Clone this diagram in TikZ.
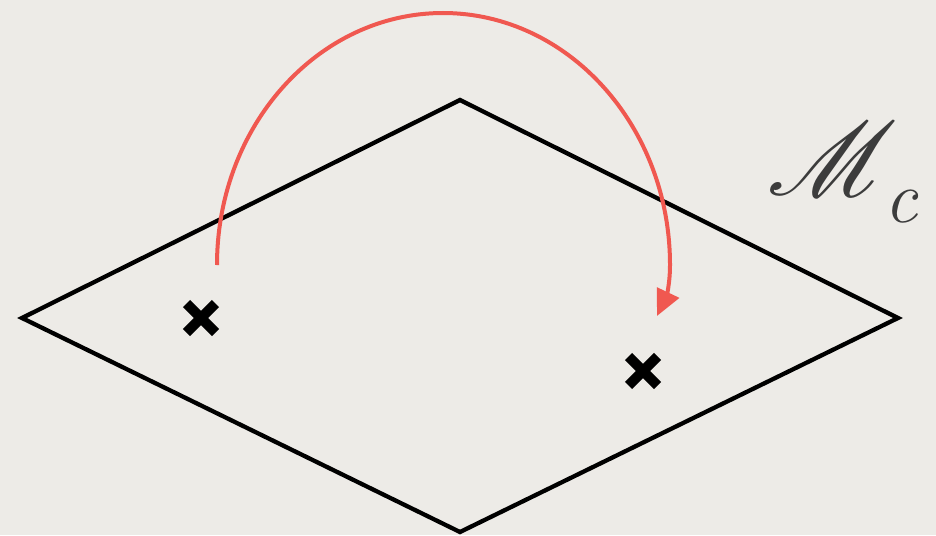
\documentclass[tikz,border=0pt]{standalone}
\usepackage{mathrsfs}
\usetikzlibrary{arrows.meta,calc}
\definecolor{paper}{RGB}{237,235,231}
\definecolor{arcred}{RGB}{240,88,80}
\definecolor{labelgray}{RGB}{60,60,60}
\tikzset{
  edge/.style={line width=4.3pt, line join=miter, black},
  hop/.style={line width=4pt, arcred, -{Triangle[length=26pt,width=24pt]}},
  xmark/.style={line width=10pt, black},
  labeltext/.style={anchor=base west, text=labelgray, inner sep=0pt},
}
\begin{document}
\begin{tikzpicture}[x=1pt,y=-1pt]
  \fill[paper] (0,0) rectangle (936,535);
  \useasboundingbox (0,0) rectangle (936,535);
  \coordinate (top) at (460,100);
  \coordinate (left) at (22,318);
  \coordinate (right) at (898,318);
  \coordinate (bottom) at (460,532);
  \draw[edge] (top) -- (right) -- (bottom) -- (left) -- cycle;
  \coordinate (p1) at (201,318);
  \coordinate (p2) at (643,371);
  \foreach \p in {p1,p2}{
    \draw[xmark] ($(\p)+(-14.5,-14.5)$) -- ($(\p)+(14.5,14.5)$);
    \draw[xmark] ($(\p)+(-14.5,14.5)$) -- ($(\p)+(14.5,-14.5)$);
  }
  \coordinate (start) at (217,265);
  \coordinate (apex) at (443,13);
  \coordinate (side) at (670,265);
  \coordinate (tip) at (657,316);
  \draw[hop] (start) .. controls (217,126) and (318,13) .. (apex)
    .. controls (568,13) and (670,126) .. (side)
    .. controls (670,285) and (666,297) .. (tip);
  \node[labeltext] (labelM) at (767,195) {\scalebox{10.5}{$\mathscr{M}$}};
  \node[labeltext] (labelc) at (884,222) {\fontsize{74}{74}\selectfont\itshape c};
\end{tikzpicture}
\end{document}
